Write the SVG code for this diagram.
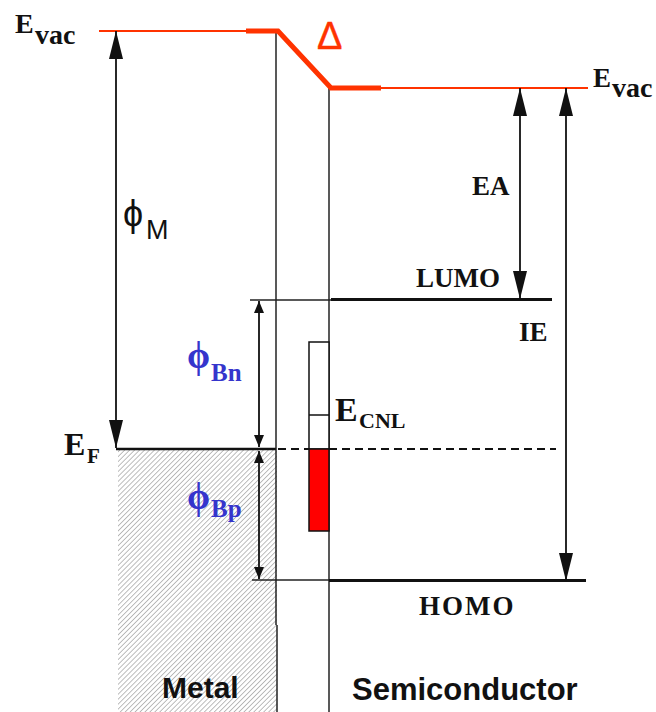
<svg xmlns="http://www.w3.org/2000/svg" width="656" height="712" viewBox="0 0 656 712">
<style>
.lbl{font-family:"Liberation Serif","Times New Roman",serif;font-weight:bold;fill:#111}
.blue{font-family:"Liberation Serif","Times New Roman",serif;font-weight:bold;fill:#3535cc}
.sans{font-family:"Liberation Sans",Arial,sans-serif;fill:#111}
.thin{stroke:#222;stroke-width:1.5;fill:none}
.arr{stroke:#111;stroke-width:1.8;fill:none}
.red{stroke:#ff3300;fill:none}
</style>
<defs>
<pattern id="hatch" patternUnits="userSpaceOnUse" width="3.5" height="3.5" patternTransform="rotate(45)">
<line x1="0" y1="0" x2="0" y2="3.5" stroke="#7a7a7a" stroke-width="1"/>
</pattern>
<marker id="big" viewBox="0 0 28 14" refX="28" refY="7" markerWidth="28" markerHeight="14" markerUnits="userSpaceOnUse" orient="auto-start-reverse">
<path d="M0,0 L28,7 L0,14 z" fill="#111"/>
</marker>
<marker id="small" viewBox="0 0 12 10" refX="12" refY="5" markerWidth="12" markerHeight="10" markerUnits="userSpaceOnUse" orient="auto-start-reverse">
<path d="M0,0 L12,5 L0,10 z" fill="#111"/>
</marker>
</defs>
<rect width="656" height="712" fill="#fff"/>

<g id="metal">
<rect x="118" y="450" width="159" height="262" fill="url(#hatch)"/>
<line x1="116" y1="449" x2="276" y2="449" stroke="#111" stroke-width="2.5"/>
<text class="sans" x="162" y="698" font-size="30" font-weight="bold">Metal</text>
</g>

<g id="interface">
<line class="thin" x1="276" y1="31" x2="276" y2="625"/>
<line class="thin" x1="277" y1="625" x2="277" y2="712" stroke="#666"/>
<line class="thin" x1="329" y1="88" x2="329" y2="712"/>
</g>

<g id="vacuum">
<path class="red" d="M99,31 H246" stroke-width="2"/>
<path class="red" d="M246,31 H278 L331,88 H381" stroke-width="5" stroke-linejoin="miter"/>
<path class="red" d="M381,88 H588" stroke-width="2"/>
<text class="lbl" x="15" y="33" font-size="28">E</text>
<text class="lbl" x="35" y="44" font-size="28">vac</text>
<text class="lbl" x="593" y="87" font-size="27">E</text>
<text class="lbl" x="612" y="97" font-size="28">vac</text>
<text x="317" y="49" font-size="38" fill="#ff3300" stroke="#ff3300" stroke-width="0.4" font-family="Liberation Sans,sans-serif">Δ</text>
</g>

<g id="semiconductor">
<line x1="250" y1="300" x2="331" y2="300" class="thin"/>
<line x1="331" y1="299.5" x2="552" y2="299.5" stroke="#111" stroke-width="3"/>
<line x1="252" y1="580" x2="331" y2="580" class="thin"/>
<line x1="329" y1="580.5" x2="586" y2="580.5" stroke="#111" stroke-width="3"/>
<text class="lbl" x="416" y="287" font-size="27">LUMO</text>
<text class="lbl" x="419" y="615" font-size="27" letter-spacing="2">HOMO</text>
<text class="sans" x="352" y="700" font-size="31" font-weight="bold">Semiconductor</text>
</g>

<g id="fermi">
<path d="M278,449 H309 M329,449 H556" stroke="#111" stroke-width="2" stroke-dasharray="8,5"/>
<text class="lbl" x="64" y="455" font-size="32">E</text>
<text class="lbl" x="87" y="463" font-size="21">F</text>
</g>

<g id="cnl">
<rect x="309" y="342" width="20" height="107" fill="#fff" stroke="#111" stroke-width="1.5"/>
<rect x="309" y="449" width="20" height="82" fill="#ff0000" stroke="#111" stroke-width="1.5"/>
<line x1="309" y1="415" x2="329" y2="415" stroke="#111" stroke-width="1.5"/>
<text class="lbl" x="335" y="421" font-size="34">E</text>
<text class="lbl" x="359" y="428" font-size="22">CNL</text>
</g>

<g id="connectors">
<line class="arr" x1="116" y1="31" x2="116" y2="448" marker-start="url(#big)" marker-end="url(#big)"/>
<line class="arr" x1="520" y1="88" x2="520" y2="299" marker-start="url(#big)" marker-end="url(#big)"/>
<line class="arr" x1="566" y1="88" x2="566" y2="581" marker-start="url(#big)" marker-end="url(#big)"/>
<line class="arr" x1="259" y1="301" x2="259" y2="447" marker-start="url(#small)" marker-end="url(#small)"/>
<line class="arr" x1="259" y1="451" x2="259" y2="579" marker-start="url(#small)" marker-end="url(#small)"/>
</g>

<g id="labels">
<text class="sans" x="123" y="226" font-size="36">ϕ</text>
<text class="sans" x="146" y="239" font-size="27">M</text>
<text class="lbl" x="472" y="195" font-size="27">EA</text>
<text class="lbl" x="519" y="341" font-size="27">IE</text>
<text class="blue" x="187" y="368" font-size="37">ϕ</text>
<text class="blue" x="211" y="381" font-size="25">Bn</text>
<text class="blue" x="187" y="509" font-size="37">ϕ</text>
<text class="blue" x="211" y="517" font-size="25">Bp</text>
</g>
</svg>
